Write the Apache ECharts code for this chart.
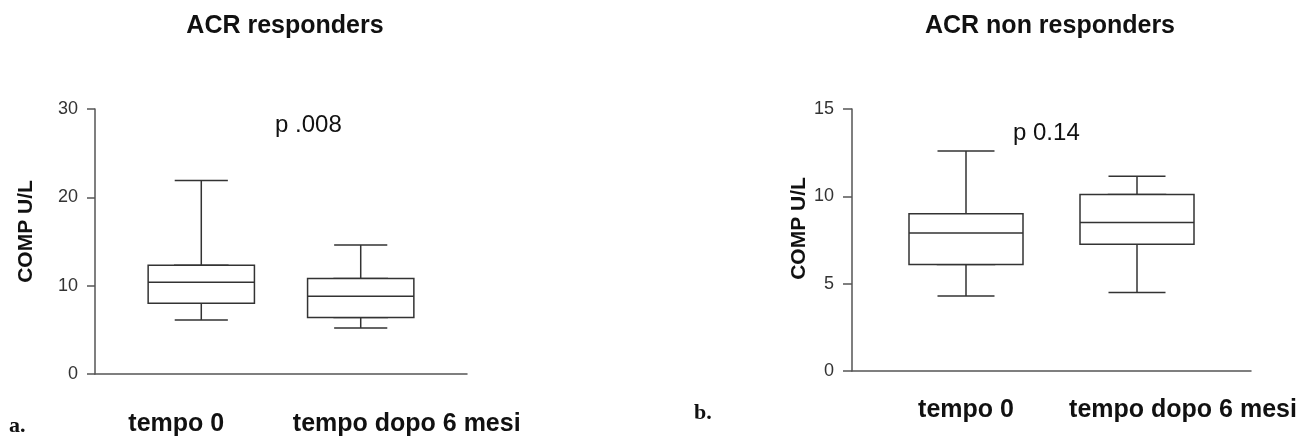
<!DOCTYPE html>
<html>
<head>
<meta charset="utf-8">
<script src="https://cdn.jsdelivr.net/npm/echarts@6/dist/echarts.min.js"></script>
<style>
html,body{margin:0;padding:0;background:#fff;}
#chart{width:1302px;height:437px;}
</style>
</head>
<body>
<div id="chart"></div>
<script>
// categories (positions on the band axis; only two are labelled)
var categories = ['', ' ', 'tempo 0', '  ', '   ', 'tempo dopo 6 mesi', '    ', '     '];
var groups = ['tempo 0', 'tempo dopo 6 mesi'];
// five-number summaries [min, Q1, median, Q3, max]
var respTempo0 = [6.1, 8.0, 10.4, 12.3, 21.9];
var respTempo6 = [5.2, 6.4, 8.8, 10.8, 14.6];
var nonRespTempo0 = [4.3, 6.1, 7.9, 9.0, 12.6];
var nonRespTempo6 = [4.5, 7.25, 8.5, 10.1, 11.15];
// y tick settings
var respTicks = {min: 0, max: 30, interval: 10};
var nonRespTicks = {min: 0, max: 15, interval: 5};
var titles = ['ACR responders', 'ACR non responders'];
var pValues = ['p .008', 'p 0.14'];
var panelLetters = ['a.', 'b.'];
var yName = 'COMP U/L';

var FONT = 'Liberation Sans, Arial, sans-serif';
var LINE = '#333';

function rows(a, b) {
  return [
    [categories.indexOf(groups[0])].concat(a),
    [categories.indexOf(groups[1])].concat(b)
  ];
}
function boxRows(a, b) {
  return [
    [categories.indexOf(groups[0]), a[1], a[1], a[2], a[3], a[3]],
    [categories.indexOf(groups[1]), b[1], b[1], b[2], b[3], b[3]]
  ];
}

function xAxisFor(grid, show, labelMargin) {
  var base = {fontFamily: FONT, fontSize: 25, fontWeight: 'bold', color: '#111'};
  return {
    type: 'category', gridIndex: grid, data: categories, boundaryGap: false, show: show,
    axisLine: {show: true, lineStyle: {color: '#555', width: 1.5}},
    axisTick: {show: false},
    splitLine: {show: false},
    axisLabel: {
      show: true, interval: 0, margin: labelMargin, color: '#111',
      fontFamily: FONT, fontSize: 25, fontWeight: 'bold',
      formatter: function (v) {
        if (v === groups[0]) return '{' + (grid === 0 ? 'l' : 'c') + '|' + v + '}';
        if (v === groups[1]) return '{r|' + v + '}';
        return '';
      },
      rich: {
        l: Object.assign({padding: [0, 50, 0, 0]}, base),
        c: Object.assign({}, base),
        r: Object.assign({padding: [0, 0, 0, 92]}, base)
      }
    }
  };
}
function yAxisFor(grid, ticks, gap, shift, tickLen, labelMargin) {
  return {
    type: 'value', gridIndex: grid, min: ticks.min, max: ticks.max, interval: ticks.interval,
    name: yName, nameLocation: 'middle', nameGap: gap,
    nameTextStyle: {fontFamily: FONT, fontSize: 21, fontWeight: 'bold', color: '#111', padding: [0, 0, 0, shift]},
    axisLine: {show: true, lineStyle: {color: '#555', width: 1.5}},
    axisTick: {show: true, length: tickLen, lineStyle: {color: '#555', width: 1.5}},
    splitLine: {show: false},
    axisLabel: {margin: labelMargin, color: '#333', fontFamily: FONT, fontSize: 18}
  };
}
function whiskers(xi, yi, data) {
  return {
    type: 'boxplot', xAxisIndex: xi, yAxisIndex: yi, z: 2,
    boxWidth: ['100%', '100%'], encode: {x: 0, y: [1, 2, 3, 4, 5]},
    itemStyle: {color: '#fff', borderColor: LINE, borderWidth: 1.5},
    emphasis: {disabled: true}, data: data
  };
}
function boxes(xi, yi, data) {
  return {
    type: 'boxplot', xAxisIndex: xi, yAxisIndex: yi, z: 3,
    boxWidth: ['200%', '200%'], encode: {x: 0, y: [1, 2, 3, 4, 5]},
    itemStyle: {color: '#fff', borderColor: LINE, borderWidth: 1.5},
    emphasis: {disabled: true}, data: data
  };
}
function txt(text, x, y, size, weight, family, align) {
  return {
    type: 'text', x: x, y: y, silent: true,
    style: {text: text, font: weight + ' ' + size + 'px ' + family, fill: '#111',
      align: align, textAlign: align, verticalAlign: 'middle', textVerticalAlign: 'middle'}
  };
}

var chart = echarts.init(document.getElementById('chart'), null, {renderer: 'canvas'});
chart.setOption({
  animation: false,
  backgroundColor: '#fff',
  grid: [
    {left: 95, top: 109, width: 372, height: 265},
    {left: 852, top: 109, width: 399, height: 262}
  ],
  xAxis: [xAxisFor(0, true, 38), xAxisFor(0, false, 38), xAxisFor(1, true, 27), xAxisFor(1, false, 27)],
  yAxis: [yAxisFor(0, respTicks, 58, 20, 8, 17), yAxisFor(1, nonRespTicks, 40, 23, 9, 18)],
  series: [
    whiskers(0, 0, rows(respTempo0, respTempo6)),
    boxes(1, 0, boxRows(respTempo0, respTempo6)),
    whiskers(2, 1, rows(nonRespTempo0, nonRespTempo6)),
    boxes(3, 1, boxRows(nonRespTempo0, nonRespTempo6))
  ],
  graphic: [
    txt(titles[0], 285, 26, 25, 'bold', FONT, 'center'),
    txt(titles[1], 1050, 26, 25, 'bold', FONT, 'center'),
    txt(pValues[0], 275, 125, 24, 'normal', FONT, 'left'),
    txt(pValues[1], 1013, 133, 24, 'normal', FONT, 'left'),
    txt(panelLetters[0], 9, 426, 22, 'bold', 'Liberation Serif, serif', 'left'),
    txt(panelLetters[1], 694, 413, 22, 'bold', 'Liberation Serif, serif', 'left')
  ]
});
</script>
</body>
</html>
